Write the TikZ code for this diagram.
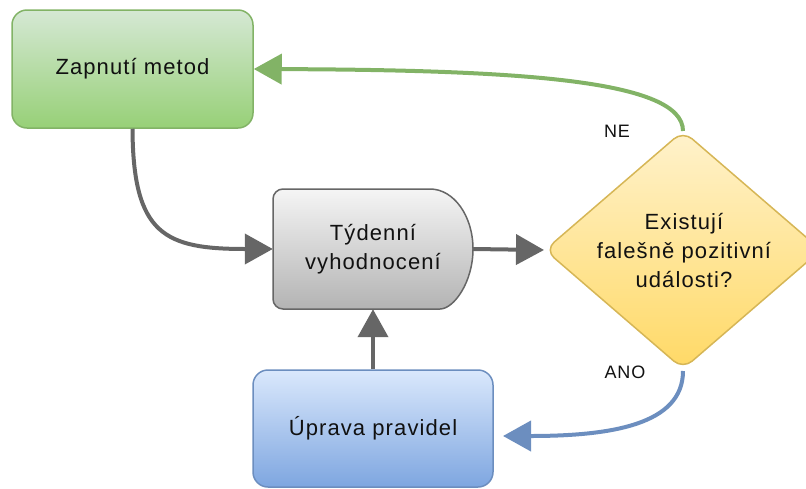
\documentclass[tikz,border=0pt]{standalone}
\usepackage{fontspec}
\setmainfont{Liberation Sans}
\newfontfamily\spacedfont[LetterSpace=5]{Liberation Sans}
\usetikzlibrary{arrows.meta}
\definecolor{gfill1}{HTML}{D5E8D4}
\definecolor{gfill2}{HTML}{97D077}
\definecolor{gline}{HTML}{82B366}
\definecolor{kfill1}{HTML}{F5F5F5}
\definecolor{kfill2}{HTML}{B3B3B3}
\definecolor{kline}{HTML}{666666}
\definecolor{bfill1}{HTML}{DAE8FC}
\definecolor{bfill2}{HTML}{7EA6E0}
\definecolor{bline}{HTML}{6C8EBF}
\definecolor{yfill1}{HTML}{FFF2CC}
\definecolor{yfill2}{HTML}{FFD966}
\definecolor{yline}{HTML}{D6B656}
\definecolor{txt}{HTML}{111111}
\tikzset{
  x=1pt, y=1pt,
  boxtext/.style={text=txt, font=\spacedfont\fontsize{22}{29}\selectfont, align=center},
  greenbox/.style={draw=gline, line width=1.5pt, top color=gfill1, bottom color=gfill2, rounded corners=15pt, minimum width=241pt, minimum height=118pt, inner sep=0pt},
  bluebox/.style={draw=bline, line width=1.5pt, top color=bfill1, bottom color=bfill2, rounded corners=15pt, minimum width=240pt, minimum height=117pt, inner sep=0pt},
  grayshape/.style={draw=kline, line width=1.5pt, top color=kfill1, bottom color=kfill2},
  yellowshape/.style={draw=yline, line width=1.5pt, top color=yfill1, bottom color=yfill2},
  conn/.style={line width=4pt, -{Triangle[length=28pt,width=30pt]}},
  greenconn/.style={conn, draw=gline},
  grayconn/.style={conn, draw=kline},
  blueconn/.style={conn, draw=bline},
  lbl/.style={text=txt, font=\spacedfont\fontsize{18}{22}\selectfont, inner sep=0pt},
}
\begin{document}
\begin{tikzpicture}
\useasboundingbox (0,0) rectangle (806,-488);
\clip (0,0) rectangle (806,-488);
% green box
\node[greenbox, boxtext] (zap) at (132.5,-69) {Zapnutí metod};
% gray delay shape
\path[grayshape, rounded corners=10pt] (430,-189) -- (273,-189) -- (273,-309) -- (430,-309) [sharp corners] arc[start angle=-90, end angle=90, x radius=43, y radius=60] -- cycle;
\node[boxtext, minimum width=200pt, minimum height=120pt, inner sep=0pt] (tyd) at (373,-249) {Týdenní\\vyhodnocení};
% diamond
\path[yellowshape, rounded corners=12pt] (545,-250) -- (683,-131) -- (821,-250) -- (683,-369) -- cycle;
\node[boxtext, align=center, inner sep=0pt] (dia) at (684,-251) {Existují\\falešně pozitivní\\události?};
\coordinate (dtop) at (683,-131);
\coordinate (dleft) at (544,-250);
\coordinate (dbottom) at (683,-371);
% blue box
\node[bluebox, boxtext] (upr) at (373,-428.5) {Úprava pravidel};
\coordinate (bluetip) at (503,-436);
% labels
\node[lbl] (ne) at (617,-131) {NE};
\node[lbl] (ano) at (625,-372) {ANO};
% connectors
\draw[greenconn] (dtop) .. controls (683,-80) and (520,-70) .. (zap.east);
\draw[grayconn] (zap.south) .. controls (133,-235) and (165,-249) .. (tyd.west);
\draw[grayconn] (tyd.east) -- (dleft);
\draw[blueconn] (dbottom) .. controls (683,-425) and (610,-436) .. (bluetip);
\draw[grayconn] (upr.north) -- (tyd.south);
\end{tikzpicture}
\end{document}
